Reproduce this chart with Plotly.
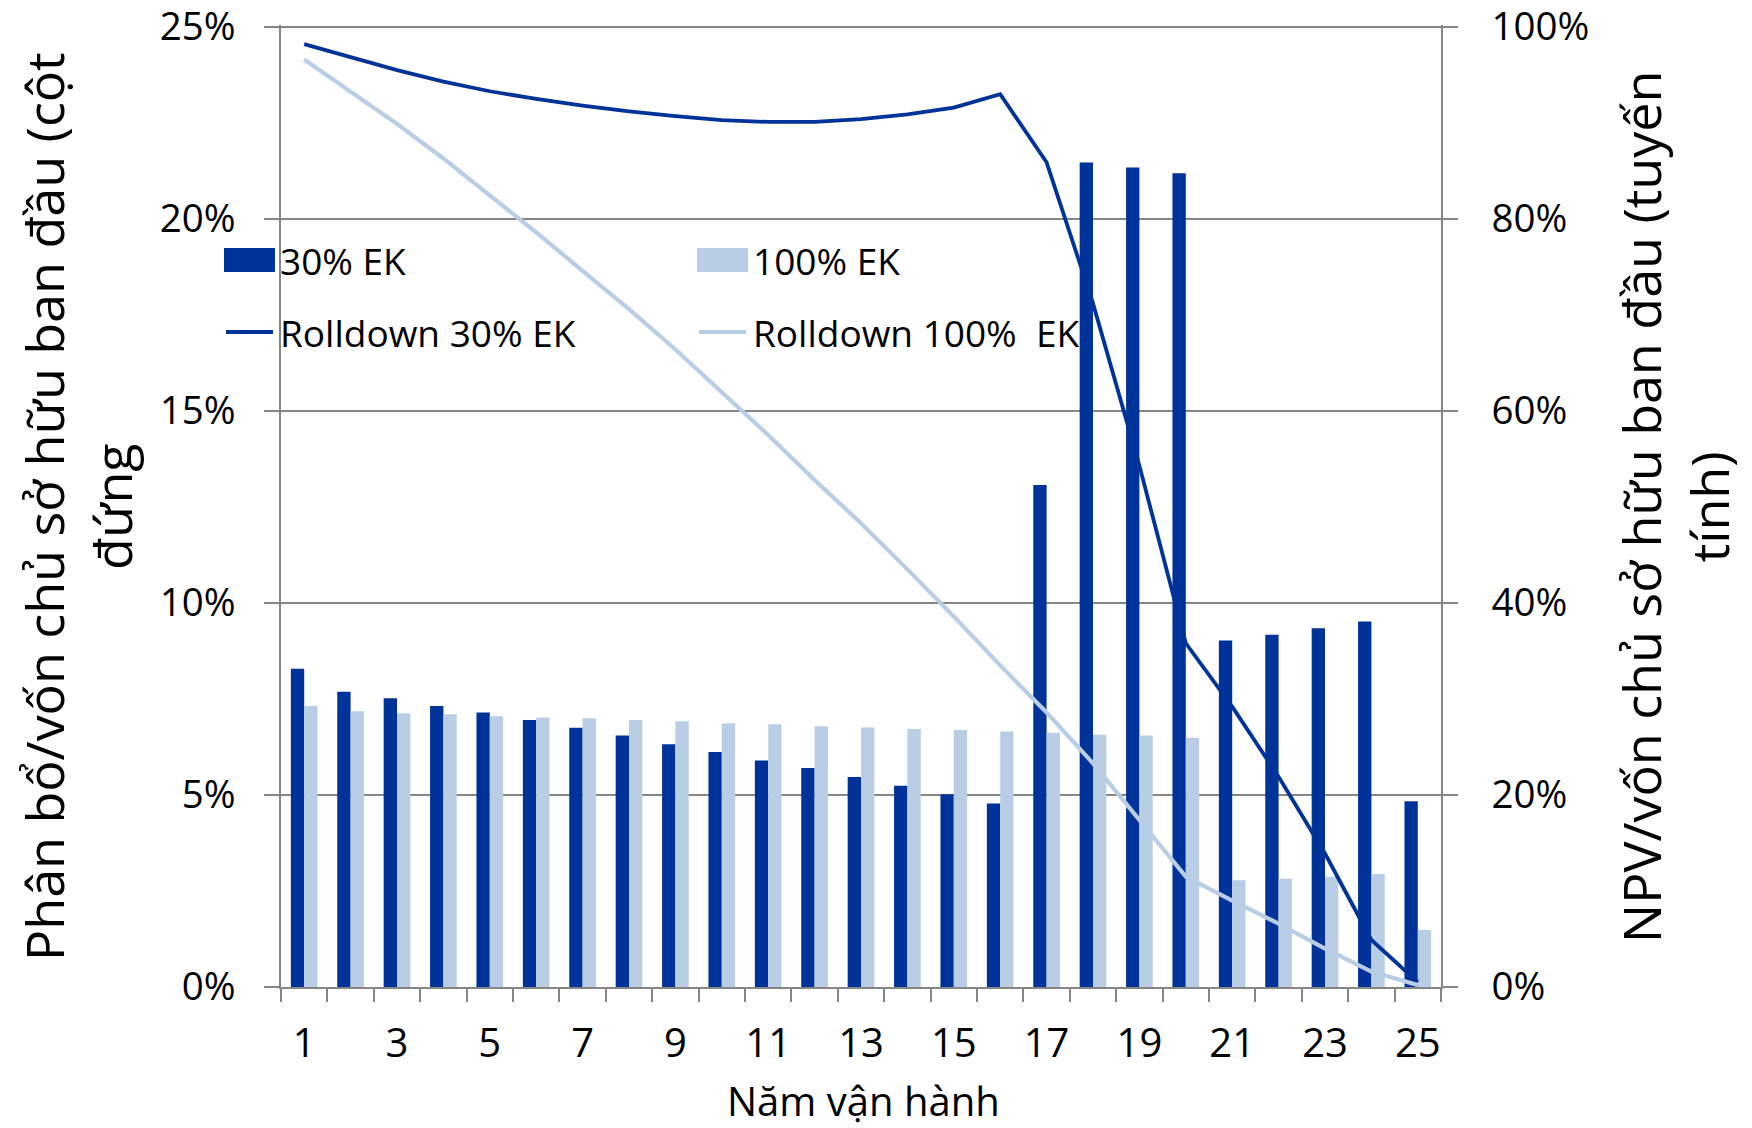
import plotly.graph_objects as go

# Operating years
years = list(range(1, 26))

# Distribution / initial owner equity (%), bars on the left axis
alloc_30 = [8.29, 7.69, 7.52, 7.32, 7.15, 6.95, 6.75, 6.55, 6.32, 6.12,
            5.90, 5.70, 5.47, 5.24, 5.02, 4.78, 13.07, 21.47, 21.34, 21.19,
            9.02, 9.17, 9.34, 9.52, 4.84]
alloc_100 = [7.32, 7.18, 7.13, 7.10, 7.05, 7.02, 7.00, 6.95, 6.92, 6.87,
             6.84, 6.79, 6.76, 6.72, 6.69, 6.65, 6.62, 6.57, 6.55, 6.49,
             2.78, 2.82, 2.87, 2.94, 1.49]

# NPV / initial owner equity (%), lines on the right axis
rolldown_30 = [98.2, 96.8, 95.5, 94.3, 93.3, 92.5, 91.8, 91.2, 90.7, 90.3,
               90.1, 90.1, 90.4, 90.9, 91.6, 93.0, 85.9, 71.2, 54.3, 35.8,
               29.2, 21.9, 13.9, 4.9, 0.5]
rolldown_100 = [96.6, 93.3, 89.9, 86.3, 82.5, 78.6, 74.6, 70.6, 66.4, 62.0,
                57.5, 52.8, 48.3, 43.5, 38.6, 33.5, 28.6, 23.3, 17.4, 11.5,
                9.0, 6.6, 4.0, 1.6, 0.2]

series_names = ["30% EK", "100% EK", "Rolldown 30% EK", "Rolldown 100%  EK"]

x_tick_years = list(range(1, 26, 2))
left_ticks = [0, 5, 10, 15, 20, 25]
right_ticks = [0, 20, 40, 60, 80, 100]

left_title = "Phân bổ/vốn chủ sở hữu ban đầu (cột<br>đứng"
right_title = "NPV/vốn chủ sở hữu ban đầu (tuyến<br>tính)"
x_title = "Năm vận hành"

DARK = "#003399"
LIGHT = "#B9CDE5"
AXIS = "#868686"
FONT = "Open Sans"

W, H = 1752, 1128
L, R, T, B = 281, 311, 25, 141
PW, PH = W - L - R, H - T - B


def px_x(p):
    return (p - L) / PW


def px_y(p):
    return (H - B - p) / PH


fig = go.Figure()
fig.add_bar(x=years, y=[v / 100 for v in alloc_30], name=series_names[0],
            marker=dict(color=DARK, line=dict(width=0)))
fig.add_bar(x=years, y=[v / 100 for v in alloc_100], name=series_names[1],
            marker=dict(color=LIGHT, line=dict(width=0)))
fig.add_scatter(x=years, y=[v / 100 for v in rolldown_30], name=series_names[2],
                mode="lines", yaxis="y2", line=dict(color=DARK, width=3.8))
fig.add_scatter(x=years, y=[v / 100 for v in rolldown_100], name=series_names[3],
                mode="lines", yaxis="y2", line=dict(color=LIGHT, width=4.2))

# small headroom so the top tick (25% / 100%) and its grid line are kept
EPS = 1.002

fig.update_layout(
    width=W, height=H,
    margin=dict(l=L, r=R, t=T, b=B, autoexpand=False),
    plot_bgcolor="white", paper_bgcolor="white",
    barmode="group", bargap=0.425, bargroupgap=0,
    showlegend=False,
    font=dict(family=FONT, size=40, color="black"),
    xaxis=dict(
        range=[0.5, 25.5], tickmode="array", tickvals=x_tick_years,
        ticktext=[str(v) for v in x_tick_years], ticks="",
        showline=True, linecolor=AXIS, linewidth=1.5,
        showgrid=False, zeroline=False, ticklabelstandoff=20,
        tickfont=dict(size=40),
        minor=dict(tickmode="linear", tick0=0.5, dtick=1, ticks="outside",
                   ticklen=13, tickwidth=1.5, tickcolor=AXIS, showgrid=False),
    ),
    yaxis=dict(
        range=[0, 0.25 * EPS], tickmode="array", tickvals=[v / 100 for v in left_ticks],
        tickformat=".0%", ticks="outside", ticklen=15, tickwidth=1.5, tickcolor=AXIS,
        showgrid=True, gridcolor=AXIS, gridwidth=1.5,
        showline=True, linecolor=AXIS, linewidth=1.5, zeroline=False,
        ticklabelstandoff=21, tickfont=dict(size=38.5), ticklabeloverflow="allow",
    ),
    yaxis2=dict(
        overlaying="y", side="right", range=[0, 1 * EPS], tickmode="array",
        tickvals=[v / 100 for v in right_ticks], tickformat=".0%",
        ticks="outside", ticklen=15, tickwidth=1.5, tickcolor=AXIS,
        showgrid=False, showline=True, linecolor=AXIS, linewidth=1.5,
        zeroline=False, ticklabelstandoff=26, tickfont=dict(size=38.5),
        ticklabeloverflow="allow",
    ),
)

# Legend drawn as swatches + labels in two columns inside the plot
legend_cols = [224, 697]
legend_rows = [260, 332]
swatch_w = 51
legend_items = [
    (series_names[0], DARK, "bar", 0, 0),
    (series_names[1], LIGHT, "bar", 1, 0),
    (series_names[2], DARK, "line", 0, 1),
    (series_names[3], LIGHT, "line", 1, 1),
]
shapes = []
annotations = []
for name, color, kind, c, r in legend_items:
    x0 = legend_cols[c]
    yc = legend_rows[r]
    if kind == "bar":
        shapes.append(dict(type="rect", xref="paper", yref="paper",
                           x0=px_x(x0), x1=px_x(x0 + swatch_w),
                           y0=px_y(yc + 12), y1=px_y(yc - 12),
                           fillcolor=color, line=dict(width=0), layer="above"))
    else:
        shapes.append(dict(type="line", xref="paper", yref="paper",
                           x0=px_x(x0 + 2), x1=px_x(x0 + swatch_w - 2),
                           y0=px_y(yc), y1=px_y(yc),
                           line=dict(color=color, width=4), layer="above"))
    annotations.append(dict(text=name, xref="paper", yref="paper",
                            x=px_x(x0 + swatch_w + 3), y=px_y(yc),
                            xanchor="left", yanchor="middle", showarrow=False,
                            font=dict(size=37, family=FONT, color="black")))

# Axis titles
annotations.append(dict(text=left_title, textangle=-90, xref="paper", yref="paper",
                        x=px_x(77), y=px_y(507), xanchor="center", yanchor="middle",
                        showarrow=False, font=dict(size=52, family=FONT, color="black")))
annotations.append(dict(text=right_title, textangle=-90, xref="paper", yref="paper",
                        x=px_x(1674), y=px_y(507), xanchor="center", yanchor="middle",
                        showarrow=False, font=dict(size=52, family=FONT, color="black")))
annotations.append(dict(text=x_title, xref="paper", yref="paper",
                        x=px_x(863.5), y=px_y(1100), xanchor="center", yanchor="middle",
                        showarrow=False, font=dict(size=40, family=FONT, color="black")))

fig.update_layout(shapes=shapes, annotations=annotations)

fig.write_html("out.html")
